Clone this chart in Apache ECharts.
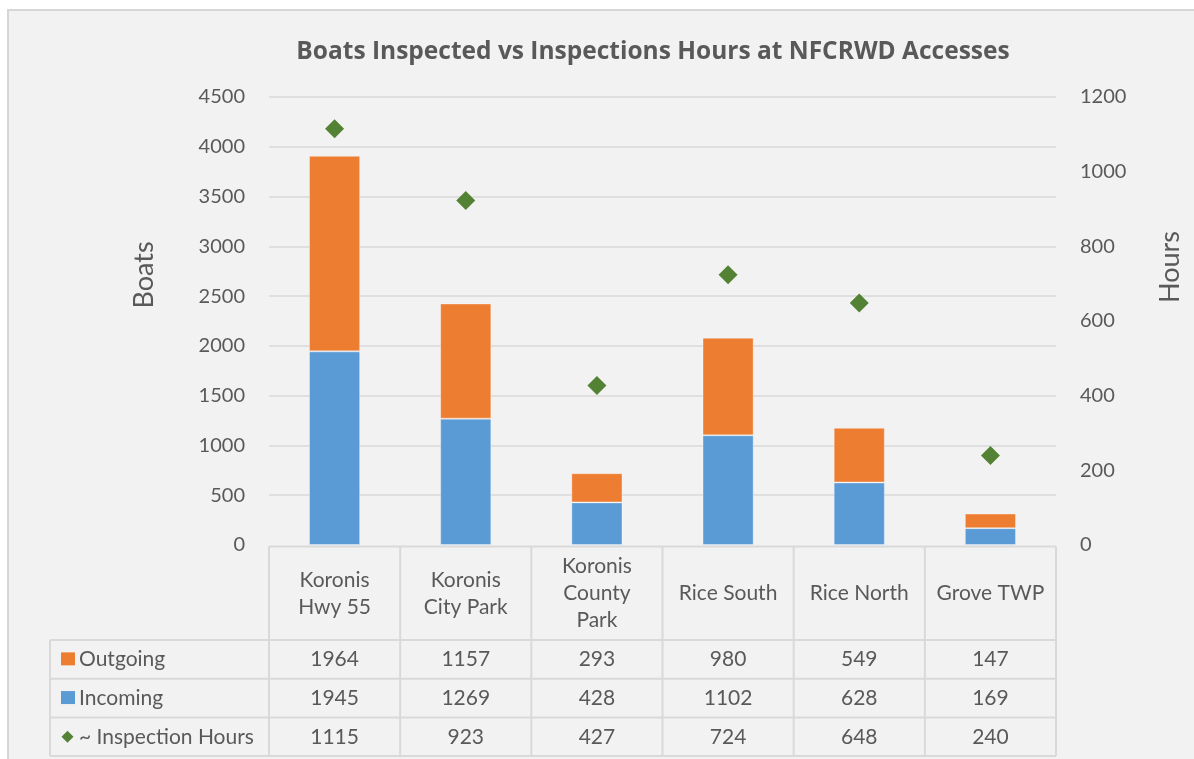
<!DOCTYPE html>
<html><head><meta charset="utf-8">
<script src="https://cdn.jsdelivr.net/npm/echarts@6/dist/echarts.min.js"></script>
<style>html,body{margin:0;padding:0;background:#fff;overflow:hidden}#c{width:1194px;height:759px}</style>
</head><body><div id="c"></div>
<script>
// ---- data ----
const categories = ['Koronis\nHwy 55', 'Koronis\nCity Park', 'Koronis\nCounty\nPark', 'Rice South', 'Rice North', 'Grove TWP'];
const outgoing = [1964, 1157, 293, 980, 549, 147];
const incoming = [1945, 1269, 428, 1102, 628, 169];
const inspectionHours = [1115, 923, 427, 724, 648, 240];
const boatsAxis = { min: 0, max: 4500, interval: 500 };
const hoursAxis = { min: 0, max: 1200, interval: 200 };
const seriesNames = { out: 'Outgoing', inc: 'Incoming', hrs: '~ Inspection Hours' };
const titleText = 'Boats Inspected vs Inspections Hours at NFCRWD Accesses';

// ---- style / layout ----
const FONT = 'Lato, "Open Sans", sans-serif';
const TXT = '#595959';
const LINE = '#d9d9d9';
const ORANGE = '#ED7D31', BLUE = '#5B9BD5', GREEN = '#548235';
const G = { left: 269, top: 97, width: 787, height: 448 };

const chart = echarts.init(document.getElementById('c'), null, { renderer: 'canvas' });

function buildTable() {
  const els = [];
  const n = categories.length;
  const colW = G.width / n;
  const tTop = G.top + G.height + 1.5;
  const hdrBottom = 640;
  const rowH = 38.7;
  const tLeft = 50;
  const tRight = G.left + G.width;
  const rows = [
    { name: seriesNames.out, values: outgoing, key: 'rect', color: ORANGE },
    { name: seriesNames.inc, values: incoming, key: 'rect', color: BLUE },
    { name: seriesNames.hrs, values: inspectionHours, key: 'diamond', color: GREEN }
  ];
  const tBottom = hdrBottom + rowH * rows.length;
  const ln = (x1, y1, x2, y2) => els.push({ type: 'line', z: 5, silent: true,
    shape: { x1, y1, x2, y2 }, style: { stroke: LINE, lineWidth: 2 } });
  ln(G.left, tTop, tRight, tTop);
  for (let r = 0; r <= rows.length; r++) ln(tLeft, hdrBottom + rowH * r, tRight, hdrBottom + rowH * r);
  ln(tLeft, hdrBottom, tLeft, tBottom);
  for (let i = 0; i <= n; i++) ln(G.left + colW * i, tTop, G.left + colW * i, tBottom);
  categories.forEach((c, i) => {
    els.push({ type: 'text', z: 6, silent: true, x: G.left + colW * (i + 0.5), y: (tTop + hdrBottom) / 2,
      style: { text: c, fill: TXT, fontFamily: FONT, fontSize: 21, align: 'center', verticalAlign: 'middle', lineHeight: 27 } });
  });
  rows.forEach((row, r) => {
    const cy = hdrBottom + rowH * (r + 0.5);
    if (row.key === 'rect') {
      els.push({ type: 'rect', z: 6, silent: true, shape: { x: 61, y: cy - 7, width: 14, height: 13 }, style: { fill: row.color } });
    } else {
      const cx = 67.5, h = 6;
      els.push({ type: 'polygon', z: 6, silent: true, shape: { points: [[cx, cy - h], [cx + h, cy], [cx, cy + h], [cx - h, cy]] }, style: { fill: row.color } });
    }
    els.push({ type: 'text', z: 6, silent: true, x: 79, y: cy,
      style: { text: row.name, fill: TXT, fontFamily: FONT, fontSize: 21, align: 'left', verticalAlign: 'middle' } });
    row.values.forEach((v, i) => {
      els.push({ type: 'text', z: 6, silent: true, x: G.left + colW * (i + 0.5), y: cy,
        style: { text: String(v), fill: TXT, fontFamily: FONT, fontSize: 21, align: 'center', verticalAlign: 'middle' } });
    });
  });
  els.push({ type: 'rect', z: -100, silent: true, shape: { x: 8, y: 10, width: 1400, height: 900 },
    style: { fill: '#f2f2f2', stroke: '#d6d6d6', lineWidth: 2 } });
  return els;
}

const plain = v => String(v);

const option = {
  animation: false,
  backgroundColor: '#ffffff',
  textStyle: { fontFamily: FONT },
  title: {
    text: titleText, left: 648, top: 35, textAlign: 'center',
    textStyle: { fontFamily: '"Open Sans", Lato, sans-serif', fontSize: 24.5, fontWeight: 'bold', color: TXT }
  },
  grid: { left: G.left, top: G.top, width: G.width, height: G.height, containLabel: false },
  xAxis: {
    type: 'category', data: categories, boundaryGap: true,
    axisLine: { show: false }, axisTick: { show: false }, axisLabel: { show: false }, splitLine: { show: false }
  },
  yAxis: [
    {
      type: 'value', min: boatsAxis.min, max: boatsAxis.max, interval: boatsAxis.interval, position: 'left',
      name: 'Boats', nameLocation: 'middle', nameRotate: 90, nameGap: 111,
      nameTextStyle: { fontFamily: FONT, fontSize: 27, color: TXT, padding: [0, 0, 0, 92] },
      axisLine: { show: false }, axisTick: { show: false },
      axisLabel: { color: TXT, fontFamily: FONT, fontSize: 20, margin: 24, formatter: plain },
      splitLine: { show: true, showMinLine: false, lineStyle: { color: LINE, width: 1.5 } }
    },
    {
      type: 'value', min: hoursAxis.min, max: hoursAxis.max, interval: hoursAxis.interval, position: 'right',
      name: 'Hours', nameLocation: 'middle', nameRotate: 90, nameGap: 101,
      nameTextStyle: { fontFamily: FONT, fontSize: 27, color: TXT, padding: [0, 0, 0, 108] },
      axisLine: { show: false }, axisTick: { show: false },
      axisLabel: { color: TXT, fontFamily: FONT, fontSize: 20, margin: 24, formatter: plain },
      splitLine: { show: false }
    }
  ],
  series: [
    { name: seriesNames.inc, type: 'bar', stack: 'boats', data: incoming, barWidth: '39%', yAxisIndex: 0,
      itemStyle: { color: BLUE, borderColor: 'rgba(255,255,255,0.35)', borderWidth: 1 } },
    { name: seriesNames.out, type: 'bar', stack: 'boats', data: outgoing, barWidth: '39%', yAxisIndex: 0,
      itemStyle: { color: ORANGE, borderColor: 'rgba(255,255,255,0.35)', borderWidth: 1 } },
    { name: seriesNames.hrs, type: 'scatter', data: inspectionHours, yAxisIndex: 1,
      symbol: 'diamond', symbolSize: 19, itemStyle: { color: GREEN, opacity: 1 } }
  ],
  graphic: { elements: buildTable() }
};
chart.setOption(option);
</script></body></html>
